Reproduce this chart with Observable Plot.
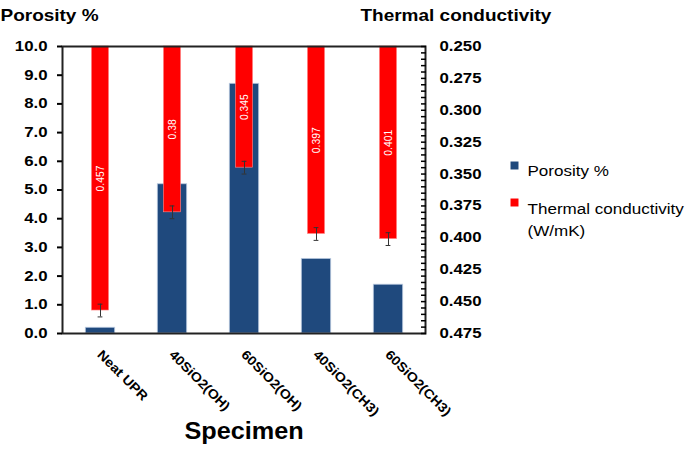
<!DOCTYPE html>
<html>
<head>
<meta charset="utf-8">
<script src="https://cdn.jsdelivr.net/npm/d3@7"></script>
<script src="https://cdn.jsdelivr.net/npm/@observablehq/plot@0.6"></script>
<style>
  html, body { margin: 0; padding: 0; background: #fff; }
  #chart { width: 685px; height: 453px; }
</style>
</head>
<body>
<div id="chart"></div>
<script>
// ---- data ----
const specimens = ["Neat UPR", "40SiO2(OH)", "60SiO2(OH)", "40SiO2(CH3)", "60SiO2(CH3)"];
const porosity = [0.2, 5.2, 8.7, 2.6, 1.7];
const conductivity = [0.457, 0.38, 0.345, 0.397, 0.401];
const conductivityErr = [0.005, 0.005, 0.005, 0.005, 0.005];
const porosityTicks = [0, 1, 2, 3, 4, 5, 6, 7, 8, 9, 10];
const conductivityTicks = [0.250, 0.275, 0.300, 0.325, 0.350, 0.375, 0.400, 0.425, 0.450, 0.475];
const conductivityMinorStep = 0.005;
const legendLabels = ["Porosity %", "Thermal conductivity", "(W/mK)"];
const titles = ["Porosity %", "Thermal conductivity", "Specimen"];

// ---- build ----
const rows = specimens.map((s, i) => ({
  specimen: s, porosity: porosity[i], tc: conductivity[i], err: conductivityErr[i]
}));

// secondary (reversed) axis mapped onto the primary y scale domain [0, 10]
const tcScale = d3.scaleLinear()
  .domain([conductivityTicks[conductivityTicks.length - 1], conductivityTicks[0]])
  .range([porosityTicks[0], porosityTicks[porosityTicks.length - 1]]);
const tcTop = tcScale(conductivityTicks[0]);
const minorTicks = d3.range(0, Math.round((conductivityTicks[conductivityTicks.length - 1] - conductivityTicks[0]) / conductivityMinorStep) + 1)
  .map(k => +(conductivityTicks[0] + k * conductivityMinorStep).toFixed(3));

const BLUE = "#1F497D";
const RED = "#FF0000";
const FONT = "Liberation Sans, Arial, Helvetica, sans-serif";
const NARROW = "Liberation Sans Narrow, Arial Narrow, Liberation Sans, Arial, sans-serif";

// horizontal stretch per font size (the reference glyphs are wider than Arial)
const STRETCH = { "14px": 1.2, "16.5px": 1.15, "24.5px": 1.03, "13px": 1.1, "15.5px": 1.1, "11.5px": 0.9 };

const chart = Plot.plot({
  width: 685,
  height: 453,
  marginTop: 46,
  marginBottom: 120,
  marginLeft: 62,
  marginRight: 260,
  style: { fontFamily: FONT, background: "#fff", color: "#000" },
  x: { domain: specimens, padding: 0, axis: null },
  y: { domain: [0, 10], axis: null },
  marks: [
    Plot.barY(rows, {
      x: "specimen", y: "porosity", fill: BLUE,
      stroke: "#b9c9df", strokeWidth: 0.8, insetLeft: 21.3, insetRight: 21.3
    }),
    Plot.barY(rows, {
      x: "specimen", y1: () => tcTop, y2: d => tcScale(d.tc), fill: RED,
      stroke: "#ff8c8c", strokeWidth: 0.6, insetLeft: 27.4, insetRight: 27.4
    }),
    Plot.ruleX(rows, {
      x: "specimen", y1: d => tcScale(d.tc - d.err), y2: d => tcScale(d.tc + d.err),
      stroke: "#333", strokeWidth: 1
    }),
    Plot.tickY(rows, {
      x: "specimen", y: d => tcScale(d.tc - d.err), stroke: "#333", strokeWidth: 1,
      insetLeft: 33.6, insetRight: 33.6
    }),
    Plot.tickY(rows, {
      x: "specimen", y: d => tcScale(d.tc + d.err), stroke: "#333", strokeWidth: 1,
      insetLeft: 33.6, insetRight: 33.6
    }),
    Plot.text(rows, {
      x: "specimen", y: d => (tcTop + tcScale(d.tc)) / 2, text: d => String(d.tc),
      rotate: -90, fill: "white", fontSize: 11.5, fontFamily: NARROW
    }),
    Plot.frame({ stroke: "#222", strokeWidth: 2 }),
    Plot.axisY(porosityTicks, {
      anchor: "left", tickSize: 5, tickPadding: 10, strokeWidth: 2,
      tickFormat: d => d.toFixed(1), fontSize: 14, fontWeight: "bold", label: null
    }),
    Plot.axisY(minorTicks.map(tcScale), {
      anchor: "right", tickSize: 5, dx: -5, strokeWidth: 1.5,
      tickFormat: () => "", label: null
    }),
    Plot.axisY(conductivityTicks.map(tcScale), {
      anchor: "right", tickSize: 0, tickPadding: 14,
      tickFormat: v => tcScale.invert(v).toFixed(3), fontSize: 14, fontWeight: "bold", label: null
    }),
    Plot.text(specimens, {
      x: d => d, y: () => 0, text: d => d, rotate: 45, textAnchor: "start", lineAnchor: "bottom",
      dx: -4, dy: 22, fontSize: 13, fontWeight: "bold"
    }),
    Plot.text([titles[0]], {
      frameAnchor: "top-left", textAnchor: "start", dx: -62, dy: -37,
      fontSize: 16.5, fontWeight: "bold"
    }),
    Plot.text([titles[1]], {
      frameAnchor: "top-left", textAnchor: "start", dx: 298, dy: -37,
      fontSize: 16.5, fontWeight: "bold"
    }),
    Plot.text([titles[2]], {
      frameAnchor: "bottom", dy: 105, fontSize: 24.5, fontWeight: "bold"
    }),
    Plot.dot([legendLabels[0]], {
      frameAnchor: "top-left", dx: 452, dy: 119, symbol: "square", r: 4.5, fill: BLUE, stroke: "none"
    }),
    Plot.dot([legendLabels[1]], {
      frameAnchor: "top-left", dx: 452, dy: 156, symbol: "square", r: 4.5, fill: RED, stroke: "none"
    }),
    Plot.text([legendLabels[0]], {
      frameAnchor: "top-left", textAnchor: "start", dx: 465, dy: 118, fontSize: 15.5
    }),
    Plot.text([legendLabels[1]], {
      frameAnchor: "top-left", textAnchor: "start", dx: 465, dy: 156, fontSize: 15.5
    }),
    Plot.text([legendLabels[2]], {
      frameAnchor: "top-left", textAnchor: "start", dx: 465, dy: 178, fontSize: 15.5
    })
  ]
});

document.getElementById("chart").appendChild(chart);

// widen glyphs to match the reference proportions
chart.querySelectorAll("text").forEach(t => {
  if (!t.textContent) return;
  const fs = getComputedStyle(t).fontSize;
  const f = STRETCH[fs];
  if (!f) return;
  const len = t.getComputedTextLength();
  if (len > 0) {
    t.setAttribute("textLength", (len * f).toFixed(2));
    t.setAttribute("lengthAdjust", "spacingAndGlyphs");
  }
});
</script>
</body>
</html>
